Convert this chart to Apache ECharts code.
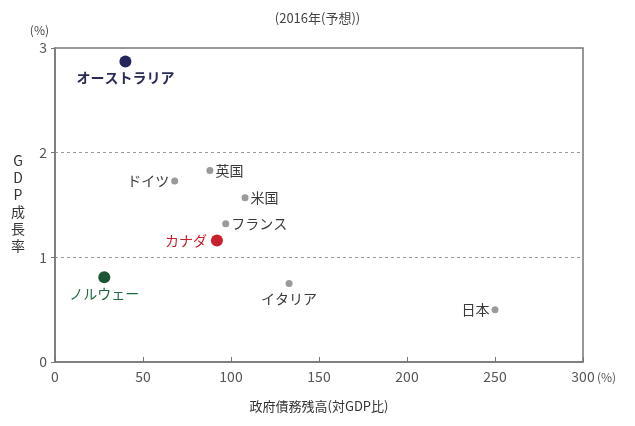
<!DOCTYPE html>
<html><head><meta charset="utf-8">
<script src="https://cdn.jsdelivr.net/npm/echarts@6/dist/echarts.min.js"></script>
<style>html,body{margin:0;padding:0;background:#fff}#c{width:635px;height:426px}</style>
</head><body><div id="c"></div>
<script>
const countries = ['オーストラリア','英国','ドイツ','米国','フランス','カナダ','ノルウェー','イタリア','日本'];
const debtRatio = [40, 88, 68, 108, 97, 92, 28, 133, 250];
const gdpGrowth = [2.87, 1.83, 1.73, 1.57, 1.32, 1.16, 0.81, 0.75, 0.50];
const xTicks = [0, 50, 100, 150, 200, 250, 300];
const yTicks = [0, 1, 2, 3];

const FONT = '"Noto Sans CJK JP", "Noto Sans", sans-serif';
const styleMap = {
  'オーストラリア': {color:'#25265c', size:12, pos:'bottom', text:'#2a2b55', dist:3, bold:true},
  'カナダ': {color:'#c8202c', size:12, pos:'left', text:'#c8202c', dist:4},
  'ノルウェー': {color:'#1c5535', size:12, pos:'bottom', text:'#1e6a3e', dist:3},
  '英国': {pos:'right'}, 'ドイツ': {pos:'left'}, '米国': {pos:'right'},
  'フランス': {pos:'right'}, 'イタリア': {pos:'bottom', dist:5}, '日本': {pos:'left'}
};
const data = countries.map((n, i) => {
  const s = styleMap[n] || {};
  return {
    name: n,
    value: [debtRatio[i], gdpGrowth[i]],
    symbolSize: s.size || 7,
    itemStyle: {color: s.color || '#9a9a9a', opacity: 1},
    label: {show: true, position: s.pos, distance: s.dist || 2, color: s.text || '#3a3a3a',
      fontWeight: s.bold ? 'bold' : 'normal', formatter: n}
  };
});

const chart = echarts.init(document.getElementById('c'));
chart.setOption({
  backgroundColor: '#fff',
  textStyle: {fontFamily: FONT},
  title: {text: '(2016年(予想))', left: 'center', top: 7,
    textStyle: {fontSize: 13, fontWeight: 'normal', color: '#444', fontFamily: FONT}},
  grid: {left: 55, right: 52, top: 48, bottom: 64, show: true, borderColor: '#777', borderWidth: 1.5},
  xAxis: {
    type: 'value', min: 0, max: 300, interval: 50,
    name: '政府債務残高(対GDP比)', nameLocation: 'middle', nameGap: 38,
    nameTextStyle: {fontSize: 13, color: '#333', fontFamily: FONT},
    axisLine: {show: true, lineStyle: {color: '#777', width: 1.5}},
    axisTick: {show: true, inside: true, length: 5, lineStyle: {color: '#777'}},
    axisLabel: {fontSize: 14, color: '#555', margin: 8, fontFamily: FONT},
    splitLine: {show: false}
  },
  yAxis: {
    type: 'value', min: 0, max: 3, interval: 1,
    name: '(%)', nameLocation: 'end', nameGap: 12,
    nameTextStyle: {fontSize: 12, color: '#444', align: 'right', padding: [0, 6, 0, 0]},
    axisLine: {show: true, lineStyle: {color: '#777', width: 1.5}},
    axisTick: {show: true, inside: false, length: 4, lineStyle: {color: '#777'}},
    axisLabel: {fontSize: 14, color: '#555', margin: 8, fontFamily: FONT},
    splitLine: {show: true, lineStyle: {color: '#999', type: [3, 3], width: 1}}
  },
  graphic: [
    {type: 'text', left: 11, top: 152,
      style: {text: 'G\nD\nP\n成\n長\n率', lineHeight: 17, fill: '#333', font: '14px ' + FONT, textAlign: 'center'}},
    {type: 'text', left: 597, top: 371,
      style: {text: '(%)', fill: '#555', font: '12px ' + FONT}}
  ],
  series: [{
    type: 'scatter', data: data,
    label: {fontSize: 14, fontFamily: FONT},
    emphasis: {disabled: true}
  }],
  animation: false
});
</script></body></html>
